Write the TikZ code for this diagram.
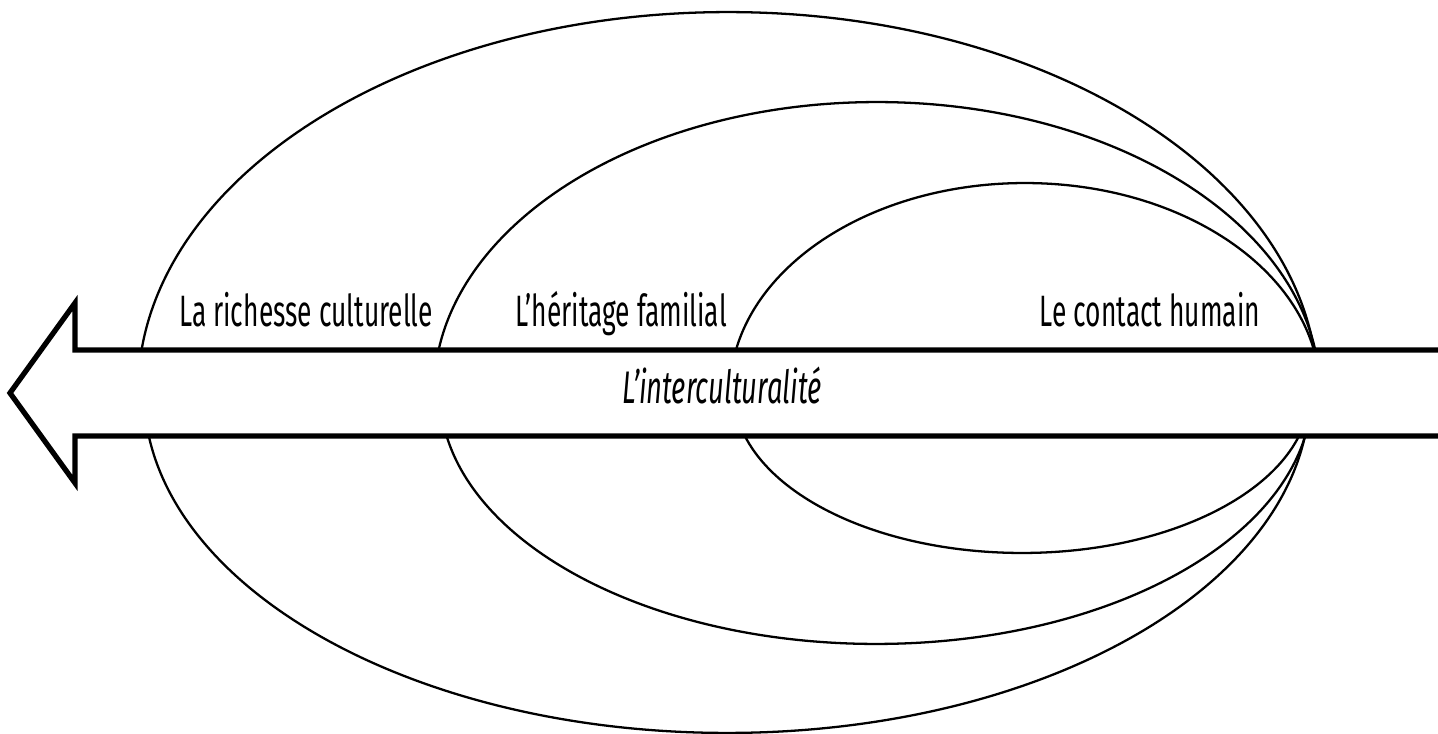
\documentclass[tikz,border=0pt]{standalone}
\usepackage{fontspec}
\setmainfont{Fira Sans}[FakeStretch=0.6]

\begin{document}
\begin{tikzpicture}[x=0.02cm, y=0.02cm,
  oval/.style={line width=1.3pt},
  band/.style={line width=3pt, fill=white, line join=miter},
  lab/.style={anchor=base, inner sep=0pt, font=\fontsize{25}{30}\selectfont}]
\useasboundingbox (0,0) rectangle (1438,734);
\draw [oval] (138,342) arc [start angle=180, end angle=0, x radius=11.8cm, y radius=7.6cm];
\draw [oval] (144,342) arc [start angle=180, end angle=360, x radius=11.66cm, y radius=6.82cm];
\draw [oval] (434,342) arc [start angle=180, end angle=0, x radius=8.86cm, y radius=5.8cm];
\draw [oval] (440,342) arc [start angle=180, end angle=360, x radius=8.72cm, y radius=5.04cm];
\draw [oval] (730,342) arc [start angle=180, end angle=0, x radius=5.9cm, y radius=4.18cm];
\draw [oval] (734,342) arc [start angle=180, end angle=360, x radius=5.76cm, y radius=3.22cm];
\filldraw [band] (1450,384) -- (75,384) -- (75,431) -- (10,341)
  -- (75,251) -- (75,298) -- (1450,298);
\node [lab] (richesse) at (306,407) {La richesse culturelle};
\node [lab] (heritage) at (621,407) {L’héritage familial};
\node [lab] (contact) at (1150,407) {Le contact humain};
\node [lab, font=\fontsize{26}{30}\selectfont\itshape] (inter) at (722,330) {L’interculturalité};
\end{tikzpicture}
\end{document}
